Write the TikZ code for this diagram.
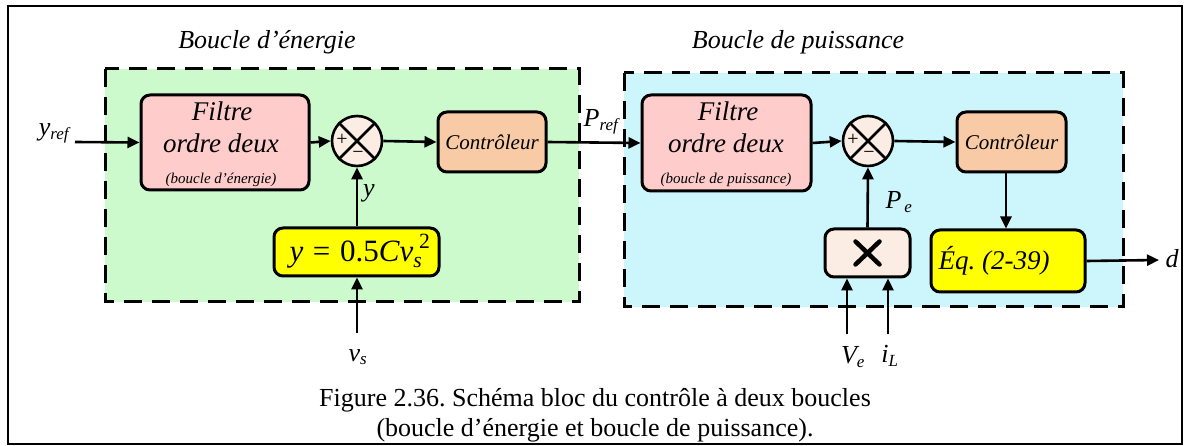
\documentclass[tikz,border=0pt]{standalone}
\usepackage{fontspec}
\setmainfont{Liberation Serif}[ItalicFont={Liberation Serif Italic},BoldFont={Liberation Serif Bold}]
\usepackage{amsmath}
\usetikzlibrary{arrows.meta,calc}
\definecolor{greenbg}{HTML}{CCFACC}
\definecolor{bluebg}{HTML}{CCF5FC}
\definecolor{filtc}{HTML}{FFCCCC}
\definecolor{ctrlc}{HTML}{F8CBA6}
\definecolor{sumc}{HTML}{FCEDE4}
\definecolor{yelc}{HTML}{FFFF00}
\newcommand\fs[1]{\fontsize{#1}{#1}\selectfont}
\frenchspacing
\begin{document}
\begin{tikzpicture}[x=1pt,y=-1pt,
  blk/.style={draw, line width=3pt, rounded corners=9pt, inner sep=0pt},
  filtbox/.style={blk, fill=filtc, minimum width=168pt, minimum height=95pt},
  ctrlbox/.style={blk, fill=ctrlc, minimum width=108pt, minimum height=60pt, font=\fs{21}\itshape},
  yelbox/.style={blk, fill=yelc},
  sumnode/.style={draw, circle, line width=2.6pt, fill=sumc, minimum size=50pt, inner sep=0pt},
  arr/.style={line width=2.6pt, -{Triangle[length=12pt,width=11pt]}},
  loopbox/.style={line width=3pt, dash pattern=on 18pt off 10pt},
  lbl/.style={inner sep=0pt, font=\fs{26}\itshape},
  ttl/.style={inner sep=0pt, font=\fs{26}\itshape},
  big/.style={inner sep=0pt, font=\fs{27}\itshape},
  small/.style={inner sep=0pt, font=\fs{15}\itshape},
  sgn/.style={inner sep=0pt, font=\fs{20}}
]
\useasboundingbox (0,0) rectangle (1184,446);
\draw[line width=2pt] (8,6) rectangle (1182,444);

% loop backgrounds
\fill[greenbg] (105,69) rectangle (579,302);
\draw[loopbox] (105,69) rectangle (579,302);
\fill[bluebg] (624,73) rectangle (1123,307);
\draw[loopbox] (624,73) rectangle (1123,307);

\node[ttl] (t1) at (267,42) {Boucle d’énergie};
\node[ttl] (t2) at (798,42) {Boucle de puissance};

% energy loop
\node[filtbox] (f1) at (225,142.5) {};
\node[big] (f1a) at (222,111) {Filtre};
\node[big] (f1b) at (221,143) {ordre deux};
\node[small] (f1c) at (221,180) {(boucle d’énergie)};
\node[sumnode] (s1) at (357,141) {};
\draw[line width=2.6pt] (s1.north east) -- (s1.south west) (s1.north west) -- (s1.south east);
\node[sgn] (s1p) at (342,140) {+};
\node[sgn] (s1m) at (358,155) {−};
\node[ctrlbox] (c1) at (492,142) {Contrôleur};
\node[yelbox, minimum width=165pt, minimum height=48pt] (e1) at (356.5,252) {};
\node[inner sep=0pt, font=\fs{31}] (e1t) at (360,251) {$\textit{y}\mkern7mu\text{=}\mkern7mu\text{0.5}\textit{Cv}_{\textit{s}}^{\mkern5mu\text{2}}$};

% power loop
\node[filtbox, minimum width=169pt, minimum height=96pt] (f2) at (726.5,143) {};
\node[big] (f2a) at (728,111) {Filtre};
\node[big] (f2b) at (726,143) {ordre deux};
\node[small] (f2c) at (726,180) {(boucle de puissance)};
\node[sumnode] (s2) at (868,141) {};
\draw[line width=2.6pt] (s2.north east) -- (s2.south west) (s2.north west) -- (s2.south east);
\node[sgn] (s2p) at (853,140) {+};
\node[sgn] (s2m) at (869,155) {−};
\node[ctrlbox, minimum width=109pt] (c2) at (1011.5,142) {Contrôleur};
\node[blk, fill=sumc, minimum width=85pt, minimum height=48pt] (m) at (867.5,253) {};
\draw[line width=4.5pt, line cap=round] ($(m.center)+(-12,-11.5)$) -- ($(m.center)+(12,11.5)$)
  ($(m.center)+(-12,11.5)$) -- ($(m.center)+(12,-11.5)$);
\node[yelbox, minimum width=154pt, minimum height=62pt] (eq) at (1008,261) {};
\node[big] (eqt) at (994,261) {Éq. (2-39)};

% labels
\node[lbl] (yref) at (54,133) {y\textsubscript{\fs{17}ref}};
\node[lbl] (pref) at (601,122) {P\textsubscript{\fs{17}ref}};
\node[lbl] (ylab) at (369,193) {y};
\node[lbl] (pe) at (899,202) {P\textsubscript{\fs{17}\,e}};
\node[lbl] (vs) at (358,357) {v\textsubscript{\fs{17}s}};
\node[lbl] (ve) at (853,357) {V\textsubscript{\fs{17}e}};
\node[lbl] (il) at (890,356) {i\textsubscript{\fs{17}L}};
\node[lbl] (d) at (1172,259) {d};

\coordinate (yin) at (75,142);
\coordinate (vsin) at (357,333);
\coordinate (vein) at (847,334);
\coordinate (ilin) at (888,334);
\coordinate (dout) at (1159,260);

% connectors
\draw[arr] (yin) -- (f1.west);
\draw[arr] (f1.east) -- (s1.west);
\draw[arr] (s1.east) -- (c1.west);
\draw[arr] (c1.east) -- (f2.west);
\draw[arr] (f2.east) -- (s2.west);
\draw[arr] (s2.east) -- (c2.west);
\draw[arr] (c2.south -| 1006,0) -- (eq.north -| 1006,0);
\draw[arr] (eq.east) -- (dout);
\draw[arr] (e1.north -| s1) -- (s1.south);
\draw[arr] (vsin) -- (vsin |- e1.south);
\draw[arr] (m.north) -- (s2.south);
\draw[arr] (vein) -- (vein |- m.south);
\draw[arr] (ilin) -- (ilin |- m.south);

% caption
\node[inner sep=0pt, font=\fs{26}] (cap1) at (595,400) {Figure 2.36. Schéma bloc du contrôle à deux boucles};
\node[inner sep=0pt, font=\fs{26}] (cap2) at (595,430) {(boucle d’énergie et boucle de puissance).};
\end{tikzpicture}
\end{document}
